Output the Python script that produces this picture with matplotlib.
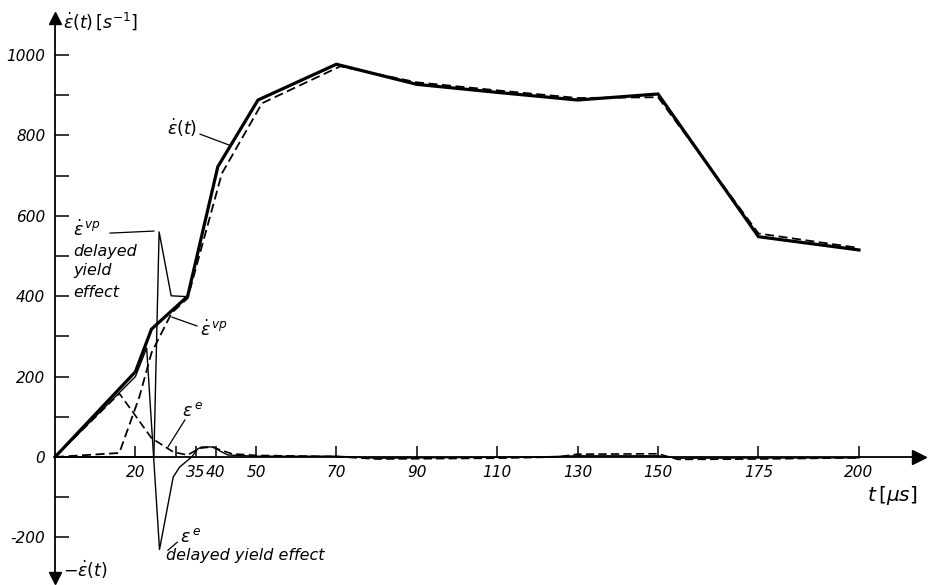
import matplotlib.pyplot as plt

plt.rcParams['font.family'] = ['DejaVu Sans']

# --- data (t in microseconds, rate in 1/s) ---
total_t = [0, 20, 24, 33, 40.5, 50.5, 70, 90, 110, 130, 150, 175, 200]
total_v = [0, 212, 318, 400, 722, 888, 977, 927, 907, 888, 903, 548, 515]

vp_t = [0, 16, 21, 24, 29, 33, 41.5, 51.5, 71, 90, 110, 130, 150, 175, 200]
vp_v = [0, 10, 150, 259, 358, 395, 705, 880, 972, 932, 912, 893, 895, 556, 520]

el_t = [0, 16, 19.5, 24, 29.5, 33, 36, 39, 41, 44, 50, 70, 80, 110, 125,
        130, 150, 155, 175, 200]
el_v = [0, 158, 110, 47, 12, 5, 22, 25, 18, 8, 4, 1, -5, -3, 0,
        7, 8, -6, -5, -2]

vp_del_t = [0, 24.6, 25.9, 28.9, 32.6]
vp_del_v = [0, 0, 560, 401, 399]

el_del_t = [0, 20, 22.8, 26, 29.4, 31, 34, 35.5, 36.5, 39.5, 41, 43, 50, 70,
            80, 120, 130, 150, 155, 200]
el_del_v = [0, 200, 271, -230, -50, -25, 0, 20, 25, 25, 15, 5, 2, 2,
            -3, 0, 3, 3, -3, -2]

x_ticks = [20, 30, 35, 40, 50, 70, 90, 110, 130, 150, 175, 200]
x_labels = ['20', '', '35', '40', '50', '70', '90', '110', '130', '150', '175', '200']
y_ticks = [-200, -100, 0, 100, 200, 300, 400, 500, 600, 700, 800, 900, 1000]
y_labels = ['-200', '', '0', '', '200', '', '400', '', '600', '', '800', '', '1000']

fig = plt.figure(figsize=(9.34, 5.85), dpi=100)
ax = fig.add_axes([0, 0, 1, 1])
ax.set_xlim(-13.68, 218.66)
ax.set_ylim(-318.4, 1136.8)

# curves
ax.plot(total_t, total_v, color='black', lw=2.3, solid_joinstyle='miter')
ax.plot(vp_t, vp_v, color='black', lw=1.3, dashes=(5, 2.5))
ax.plot(el_t, el_v, color='black', lw=1.2, dashes=(5, 2.5))
ax.plot(vp_del_t, vp_del_v, color='black', lw=1.0)
ax.plot(el_del_t, el_del_v, color='black', lw=1.0)

# axes drawn as arrows through the origin
for side in ['top', 'right']:
    ax.spines[side].set_visible(False)
ax.spines['left'].set_position(('data', 0))
ax.spines['bottom'].set_position(('data', 0))
ax.spines['left'].set_bounds(-300, 1090)
ax.spines['bottom'].set_bounds(0, 214)
ax.spines['left'].set_linewidth(1.3)
ax.spines['bottom'].set_linewidth(1.3)
ax.plot(0, 1092, marker='^', ms=9, color='black', clip_on=False)
ax.plot(0, -300, marker='v', ms=9, color='black', clip_on=False)
ax.plot(215, 0, marker='>', ms=10, color='black', clip_on=False)

ax.set_xticks(x_ticks, x_labels)
ax.set_yticks(y_ticks, y_labels)
ax.tick_params(axis='x', direction='in', length=8, width=1.1, pad=6, labelsize=11)
ax.tick_params(axis='y', direction='in', length=10, width=1.1, pad=7, labelsize=11)
for lab in ax.get_xticklabels() + ax.get_yticklabels():
    lab.set_fontstyle('italic')

fs = 11.5
ax.text(2, 1085, r'$\dot{\varepsilon}(t)\,[s^{-1}]$', fontsize=fs + 1, va='center')
ax.text(2, -280, r'$-\dot{\varepsilon}(t)$', fontsize=fs + 1, va='center')
ax.text(202, -95, r'$t\,[\mu s]$', fontsize=fs + 3, va='center')

# annotations
ax.text(31.6, 818, r'$\dot{\varepsilon}(t)$', fontsize=fs + 1, ha='center', va='center')
ax.plot([36.1, 43.3], [803, 776], color='black', lw=0.9)

ax.text(4.5, 565, r'$\dot{\varepsilon}^{\,vp}$', fontsize=fs + 1, va='center')
for txt, yy in [('delayed', 512), ('yield', 463), ('effect', 410)]:
    ax.text(4.5, yy, txt, fontsize=fs, style='italic', va='center')
ax.plot([13.7, 24.6], [557, 562], color='black', lw=0.9)

ax.text(36, 316, r'$\dot{\varepsilon}^{\,vp}$', fontsize=fs + 1, va='center')
ax.plot([35.3, 29.1], [326, 348], color='black', lw=0.9)

ax.text(31.5, 115, r'$\varepsilon^{\,e}$', fontsize=fs + 1, va='center')
ax.plot([32.3, 28.1], [92, 25], color='black', lw=0.9)

ax.text(31.2, -200, r'$\varepsilon^{\,e}$', fontsize=fs + 1, va='center')
ax.text(27.5, -245, 'delayed yield effect', fontsize=fs, style='italic', va='center')
ax.plot([28.1, 30.4], [-232, -212], color='black', lw=0.9)

fig.savefig('out.png', dpi=100)
